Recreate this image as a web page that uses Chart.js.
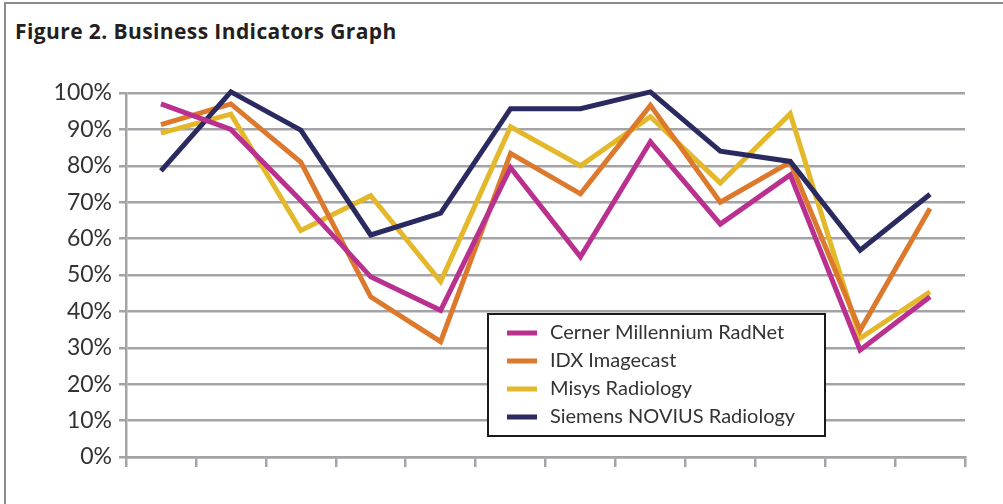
<!DOCTYPE html>
<html>
<head>
<meta charset="utf-8">
<script src="https://cdn.jsdelivr.net/npm/chart.js@4"></script>
<style>
  html, body { margin: 0; padding: 0; background: #fff; }
  body { width: 1003px; height: 504px; position: relative; overflow: hidden; }
  #frame { position: absolute; left: 4px; top: 2px; width: 1200px; height: 700px;
           border-top: 2px solid #8c8c8c; border-left: 2px solid #8c8c8c; }
  #title { position: absolute; left: 15px; top: 17px; font-family: "Open Sans", sans-serif;
           font-weight: 700; font-size: 21px; color: #231f20; letter-spacing: 0.4px; white-space: nowrap; }
  #wrap { position: absolute; left: 0; top: 0; width: 1003px; height: 504px; }
</style>
</head>
<body>
<div id="frame"></div>
<div id="title">Figure 2. Business Indicators Graph</div>
<div id="wrap"><canvas id="c" width="1003" height="504"></canvas></div>
<script>
const categories = ['1','2','3','4','5','6','7','8','9','10','11','12'];
const seriesNames = ['Cerner Millennium RadNet', 'IDX Imagecast', 'Misys Radiology', 'Siemens NOVIUS Radiology'];
const cerner  = [97, 90, 70.5, 49.5, 40.3, 79.5, 55, 86.6, 64, 77.5, 29.4, 44];
const idx     = [91.3, 97, 81, 44, 31.7, 83.4, 72.3, 96.6, 70, 81, 34.8, 68.3];
const misys   = [89, 94.2, 62.2, 71.8, 48.2, 90.7, 80, 93.5, 75.3, 94.3, 32.6, 45.4];
const siemens = [78.6, 100.3, 89.8, 61, 67, 95.7, 95.7, 100.3, 84, 81.2, 56.8, 72.2];
const yTicks = [0, 10, 20, 30, 40, 50, 60, 70, 80, 90, 100];

const colors = ['#b9308f', '#dd792c', '#e3b82a', '#2a2960'];
const orders = [1, 3, 4, 2];
const values = [cerner, idx, misys, siemens];
const GRID = '#a4a4a8';

const legendPlugin = {
  id: 'boxLegend',
  afterDatasetsDraw(chart) {
    const ctx = chart.ctx;
    const x = 488, y = 314, w = 337, h = 122;
    ctx.save();
    ctx.fillStyle = '#fff';
    ctx.fillRect(x, y, w, h);
    ctx.strokeStyle = '#1a1a1a';
    ctx.lineWidth = 2;
    ctx.strokeRect(x, y, w, h);
    const rows = [333, 361, 389, 417];
    chart.data.datasets.forEach((ds, i) => {
      ctx.strokeStyle = ds.borderColor;
      ctx.lineWidth = 5;
      ctx.beginPath();
      ctx.moveTo(507, rows[i]);
      ctx.lineTo(537, rows[i]);
      ctx.stroke();
      ctx.fillStyle = '#333';
      ctx.font = '20px Lato, sans-serif';
      ctx.textBaseline = 'middle';
      ctx.textAlign = 'left';
      ctx.fillText(ds.label, 550, rows[i]);
    });
    ctx.restore();
  }
};

new Chart(document.getElementById('c'), {
  type: 'line',
  data: {
    labels: categories,
    datasets: seriesNames.map((n, i) => ({
      label: n,
      data: values[i],
      borderColor: colors[i],
      backgroundColor: colors[i],
      borderWidth: 5,
      pointRadius: 0,
      tension: 0,
      borderJoinStyle: 'miter',
      borderCapStyle: 'butt',
      clip: false,
      order: orders[i]
    }))
  },
  options: {
    responsive: false,
    animation: false,
    devicePixelRatio: 1,
    layout: { padding: { top: 93, right: 38, left: 0, bottom: 0 } },
    plugins: { legend: { display: false }, tooltip: { enabled: false }, title: { display: false } },
    scales: {
      x: {
        offset: true,
        grid: {
          offset: true,
          color: (c) => (c.index === categories.length ? GRID : 'rgba(0,0,0,0)'),
          tickColor: GRID,
          lineWidth: 2.5,
          tickLength: 10
        },
        border: { display: true, color: GRID, width: 2.5 },
        ticks: { callback: () => '', padding: 0 },
        afterFit: (s) => { s.height = 47; }
      },
      y: {
        min: 0, max: 100,
        afterBuildTicks: (s) => { s.ticks = yTicks.map(v => ({ value: v })); },
        grid: { color: GRID, tickColor: GRID, lineWidth: 2.5, tickLength: 7 },
        border: { display: true, color: GRID, width: 2.5 },
        ticks: {
          callback: (v) => v + '%',
          color: '#333',
          font: { family: 'Lato, sans-serif', size: 23 },
          padding: 7
        },
        afterFit: (s) => { s.width = 126; }
      }
    }
  },
  plugins: [legendPlugin]
});
</script>
</body>
</html>
